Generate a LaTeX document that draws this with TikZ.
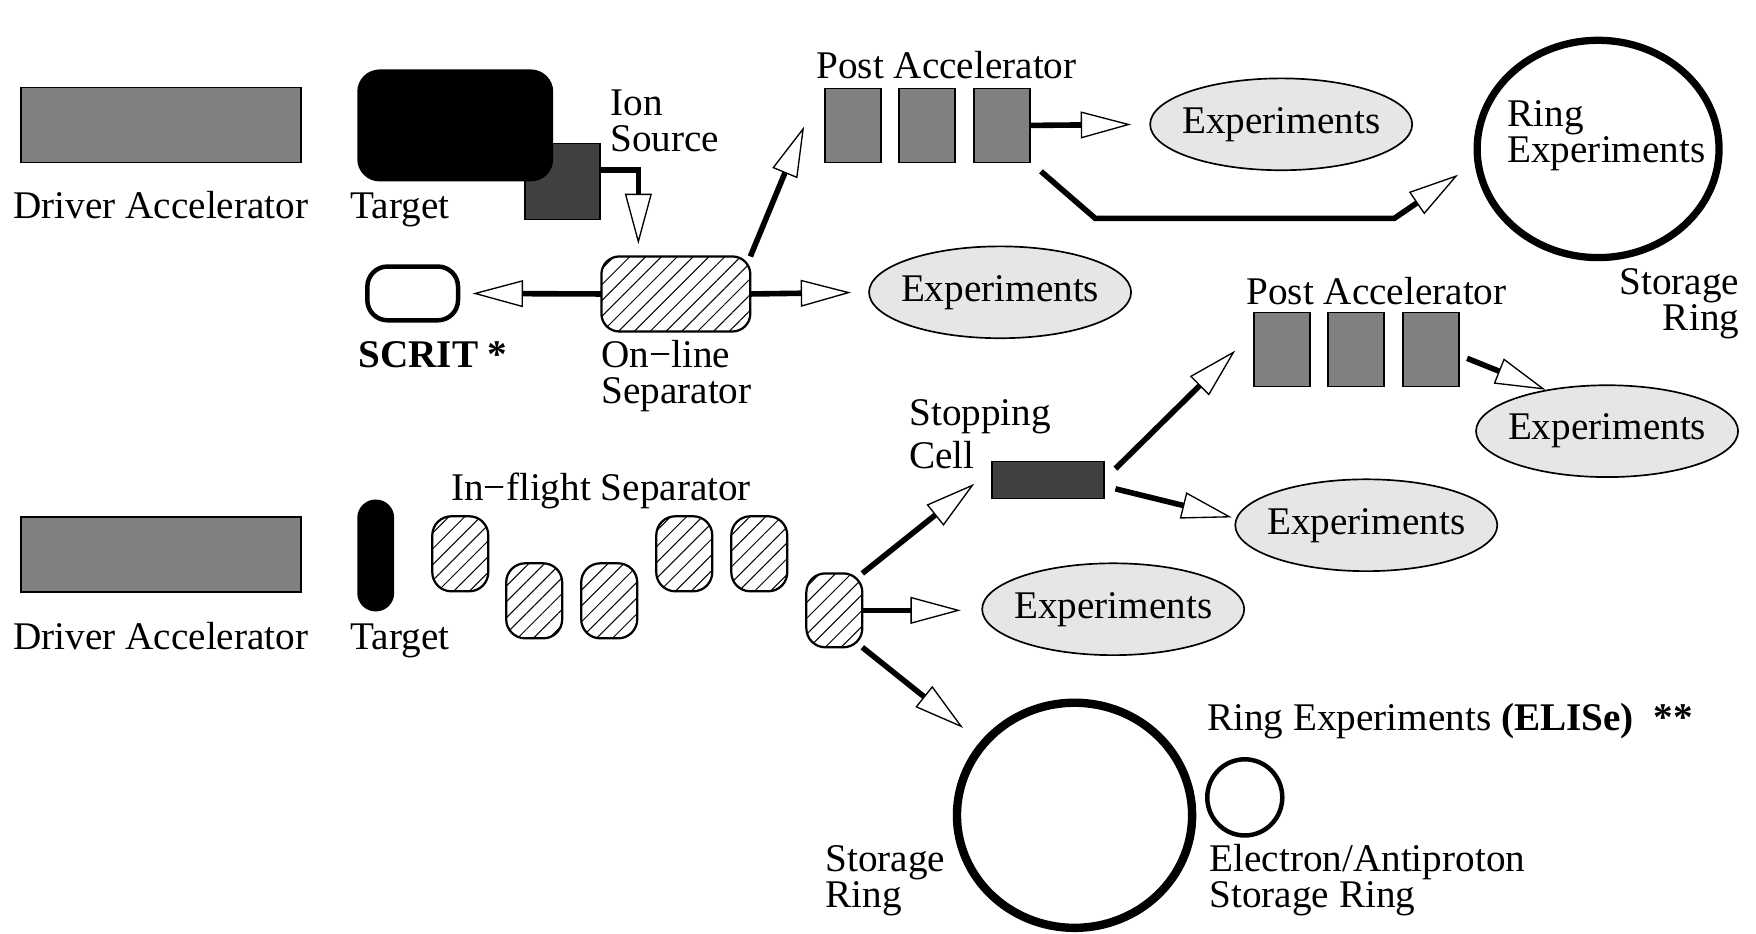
\documentclass[tikz,border=0pt]{standalone}
\usepackage{fontspec}
\setmainfont{Liberation Serif}
\usetikzlibrary{shapes.geometric, arrows.meta, patterns.meta}
\definecolor{gmid}{HTML}{808080}
\definecolor{gdark}{HTML}{404040}
\definecolor{glight}{HTML}{E6E6E6}
\begin{document}
\begin{tikzpicture}[x=1pt,y=-1pt,
  every node/.style={inner sep=0pt, outer sep=0pt},
  lbl/.style={font=\fontsize{35}{32}\selectfont, align=left, anchor=base west},
  gbox/.style={draw, line width=1.5pt, fill=gmid},
  dbox/.style={draw, line width=1.5pt, fill=gdark},
  blk/.style={fill=black},
  hatch/.style={draw, line width=2pt, fill=white, postaction={pattern={Lines[angle=45,distance=10pt,line width=0.9pt]}}},
  expl/.style={draw, line width=1.5pt, fill=glight, ellipse, minimum width=234pt, minimum height=82pt,
    label={[font=\fontsize{35}{32}\selectfont]center:Experiments}},
  conn/.style={line width=5pt, -{Triangle[length=45pt,width=24pt,fill=white,line width=1.2pt]}}
]
\useasboundingbox (0,0) rectangle (1568,834);

% ---------- top row ----------
\node[gbox, minimum width=250pt, minimum height=67pt] (drv1) at (144,111.5) {};
\node[lbl] (drv1l) at (12,195) {Driver Accelerator};
\node[dbox, minimum width=67pt, minimum height=68pt] (ion) at (502.5,162) {};
\node[blk, rounded corners=20pt, minimum width=175pt, minimum height=100pt] (tgt1) at (406.5,112) {};
\node[lbl] (tgt1l) at (313,195) {Target};
\node[lbl] (ionl) at (545,135) {Ion\\Source};

\node[hatch, rounded corners=16pt, minimum width=133pt, minimum height=67pt] (sep) at (603.5,262.5) {};
\node[lbl] (sepl) at (537,360) {On−line\\Separator};
\node[draw, line width=4pt, fill=white, rounded corners=18pt, minimum width=81pt, minimum height=48pt] (scrit) at (368.5,262) {};
\node[lbl, font=\fontsize{35}{32}\selectfont\bfseries] (scritl) at (320,328) {SCRIT *};

\node[gbox, minimum width=50pt, minimum height=66pt] (pa1) at (761.5,112) {};
\node[gbox, minimum width=50pt, minimum height=66pt] (pa2) at (828,112) {};
\node[gbox, minimum width=50pt, minimum height=66pt] (pa3) at (894.5,112) {};
\node[lbl] (pal) at (729,70) {Post Accelerator};

\node[expl] (exp2) at (1144,111) {};
\node[expl] (exp1) at (893,261) {};

\node[draw, ellipse, line width=6.5pt, minimum width=216pt, minimum height=194pt] (ring1) at (1427,133) {};
\node[lbl] (ring1l) at (1346,145) {Ring\\Experiments};
\node[lbl, align=right, anchor=base east] (sr1l) at (1553,295) {Storage\\Ring};

% ---------- middle right ----------
\node[gbox, minimum width=50pt, minimum height=66pt] (pb1) at (1145,312) {};
\node[gbox, minimum width=50pt, minimum height=66pt] (pb2) at (1211,312) {};
\node[gbox, minimum width=50pt, minimum height=66pt] (pb3) at (1278,312) {};
\node[lbl] (pbl) at (1113,272) {Post Accelerator};
\node[expl] (exp3) at (1435,385) {};
\node[dbox, minimum width=100pt, minimum height=33pt] (cell) at (936,428.5) {};
\node[lbl] (celll) at (812,418) {Stopping\\[6pt]Cell};
\node[expl] (exp4) at (1220,469) {};

% ---------- bottom row ----------
\node[gbox, minimum width=250pt, minimum height=67pt] (drv2) at (144,495) {};
\node[lbl] (drv2l) at (12,580) {Driver Accelerator};
\node[blk, rounded corners=16.5pt, minimum width=33pt, minimum height=100pt] (tgt2) at (335.5,496) {};
\node[lbl] (tgt2l) at (313,580) {Target};
\node[lbl] (ifl) at (403,447) {In−flight Separator};
\node[hatch, rounded corners=17pt, minimum width=50pt, minimum height=67pt] (h1) at (411,494.5) {};
\node[hatch, rounded corners=17pt, minimum width=50pt, minimum height=67pt] (h2) at (477,536.5) {};
\node[hatch, rounded corners=17pt, minimum width=50pt, minimum height=67pt] (h3) at (544,536.5) {};
\node[hatch, rounded corners=17pt, minimum width=50pt, minimum height=67pt] (h4) at (611,494.5) {};
\node[hatch, rounded corners=17pt, minimum width=50pt, minimum height=67pt] (h5) at (678,494.5) {};
\node[hatch, rounded corners=17pt, minimum width=50pt, minimum height=66pt] (h6) at (745,545) {};
\node[expl] (exp5) at (994,544) {};

\node[draw, ellipse, line width=7.5pt, minimum width=210pt, minimum height=201pt] (ring2) at (959.5,728) {};
\node[draw, ellipse, line width=4pt, minimum width=67pt, minimum height=68pt] (ring3) at (1111.5,712) {};
\node[lbl] (elisel) at (1078,652) {Ring Experiments \textbf{(ELISe)}\ \ \textbf{**}};
\node[lbl] (sr2l) at (737,810) {Storage\\Ring};
\node[lbl] (eapl) at (1080,810) {Electron/Antiproton\\Storage Ring};

% ---------- connectors ----------
\coordinate (a1) at (570,218);
\draw[conn] ([yshift=10pt]ion.east) -| (a1);
\draw[conn, shorten >=13pt] (sep.west) -- (scrit.east);
\draw[conn, shorten >=16pt] (sep.east) -- (exp1.west);
\coordinate (a4) at (718,113);
\draw[conn] (sep.north east) -- (a4);
\draw[conn, shorten >=17pt] (pa3.east) -- (exp2.west);
\coordinate (p1) at (978,195);
\coordinate (p2) at (1245,195);
\coordinate (a6) at (1302,156);
\draw[conn] ([xshift=10pt,yshift=-8pt]pa3.south east) -- (p1) -- (p2) -- (a6);
\coordinate (a7) at (1380,348);
\draw[conn] ([xshift=7pt,yshift=-8pt]pb3.east) -- (a7);
\coordinate (a8) at (1103,313);
\draw[conn] ([xshift=10pt,yshift=10pt]cell.east) -- (a8);
\coordinate (a9) at (1100,462);
\draw[conn] ([xshift=10pt,yshift=-8pt]cell.east) -- (a9);
\coordinate (a10) at (870,432);
\draw[conn] (h6.north east) -- (a10);
\coordinate (a11) at (858,545);
\draw[conn] (h6.east) -- (a11);
\coordinate (a12) at (860,650);
\draw[conn] (h6.south east) -- (a12);
\end{tikzpicture}
\end{document}
